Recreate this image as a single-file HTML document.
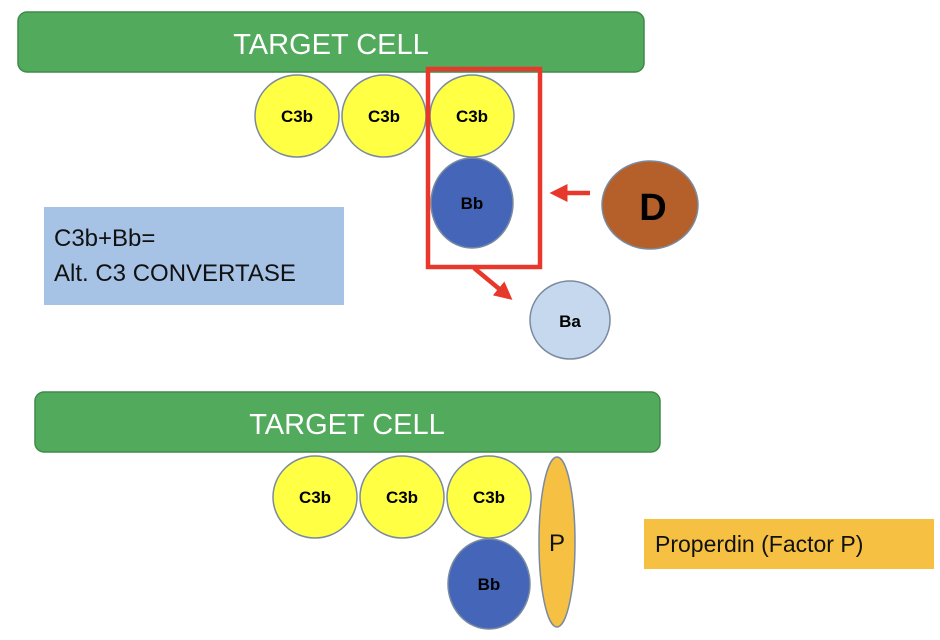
<!DOCTYPE html>
<html><head><meta charset="utf-8"><style>html,body{margin:0;padding:0;background:#fff}svg{display:block}</style></head>
<body>
<svg width="940" height="640" viewBox="0 0 940 640" xmlns="http://www.w3.org/2000/svg" font-family="Liberation Sans, sans-serif">
<defs><marker id="ah" markerWidth="4" markerHeight="4" refX="3" refY="2" orient="auto"><path d="M0,0 L4,2 L0,4 z" fill="#e8382c"/></marker></defs>
<rect x="18" y="12" width="626" height="60" rx="9" fill="#52ab5c" stroke="#3f8a49" stroke-width="1.5"/>
<text x="331" y="54" font-size="29" fill="#fff" text-anchor="middle">TARGET CELL</text>
<g stroke="#7a8aa0" stroke-width="1.5">
<ellipse cx="297" cy="116" rx="42" ry="41" fill="#ffff44"/>
<ellipse cx="384" cy="116" rx="42" ry="41" fill="#ffff44"/>
<ellipse cx="472" cy="116" rx="42" ry="41" fill="#ffff44"/>
<ellipse cx="472" cy="203" rx="41" ry="45" fill="#4566b8"/>
<ellipse cx="650" cy="205" rx="48" ry="44" fill="#b5602a"/>
<ellipse cx="570" cy="320" rx="40" ry="39" fill="#c5d8ee"/>
</g>
<g font-weight="bold" font-size="17" text-anchor="middle" fill="#000">
<text x="297" y="122">C3b</text><text x="384" y="122">C3b</text><text x="472" y="122">C3b</text>
<text x="472" y="209">Bb</text><text x="570" y="327">Ba</text>
<text x="653" y="220" font-size="38">D</text>
</g>
<rect x="428" y="69" width="112" height="198" fill="none" stroke="#e8382c" stroke-width="4.5"/>
<line x1="590" y1="193" x2="554" y2="193" stroke="#e8382c" stroke-width="4.5" marker-end="url(#ah)"/>
<line x1="474" y1="268" x2="509" y2="297" stroke="#e8382c" stroke-width="4.5" marker-end="url(#ah)"/>
<rect x="44" y="207" width="300" height="98" fill="#a6c3e5"/>
<text x="54" y="246" font-size="24" fill="#111">C3b+Bb=</text>
<text x="54" y="281" font-size="24" fill="#111">Alt. C3 CONVERTASE</text>
<rect x="35" y="392" width="625" height="60" rx="9" fill="#52ab5c" stroke="#3f8a49" stroke-width="1.5"/>
<text x="347" y="434" font-size="29" fill="#fff" text-anchor="middle">TARGET CELL</text>
<g stroke="#7a8aa0" stroke-width="1.5">
<ellipse cx="315" cy="497" rx="42" ry="41" fill="#ffff44"/>
<ellipse cx="402" cy="497" rx="42" ry="41" fill="#ffff44"/>
<ellipse cx="489" cy="497" rx="42" ry="41" fill="#ffff44"/>
<ellipse cx="489" cy="584" rx="41" ry="45" fill="#4566b8"/>
<ellipse cx="557" cy="542" rx="18" ry="85" fill="#f6c142"/>
</g>
<g font-weight="bold" font-size="17" text-anchor="middle" fill="#000">
<text x="315" y="503">C3b</text><text x="402" y="503">C3b</text><text x="489" y="503">C3b</text>
<text x="489" y="590">Bb</text>
</g>
<text x="557" y="551" font-size="24" text-anchor="middle" fill="#111">P</text>
<rect x="644" y="519" width="290" height="50" fill="#f6c142"/>
<text x="655" y="552" font-size="23" fill="#111">Properdin (Factor P)</text>
</svg>
</body></html>
